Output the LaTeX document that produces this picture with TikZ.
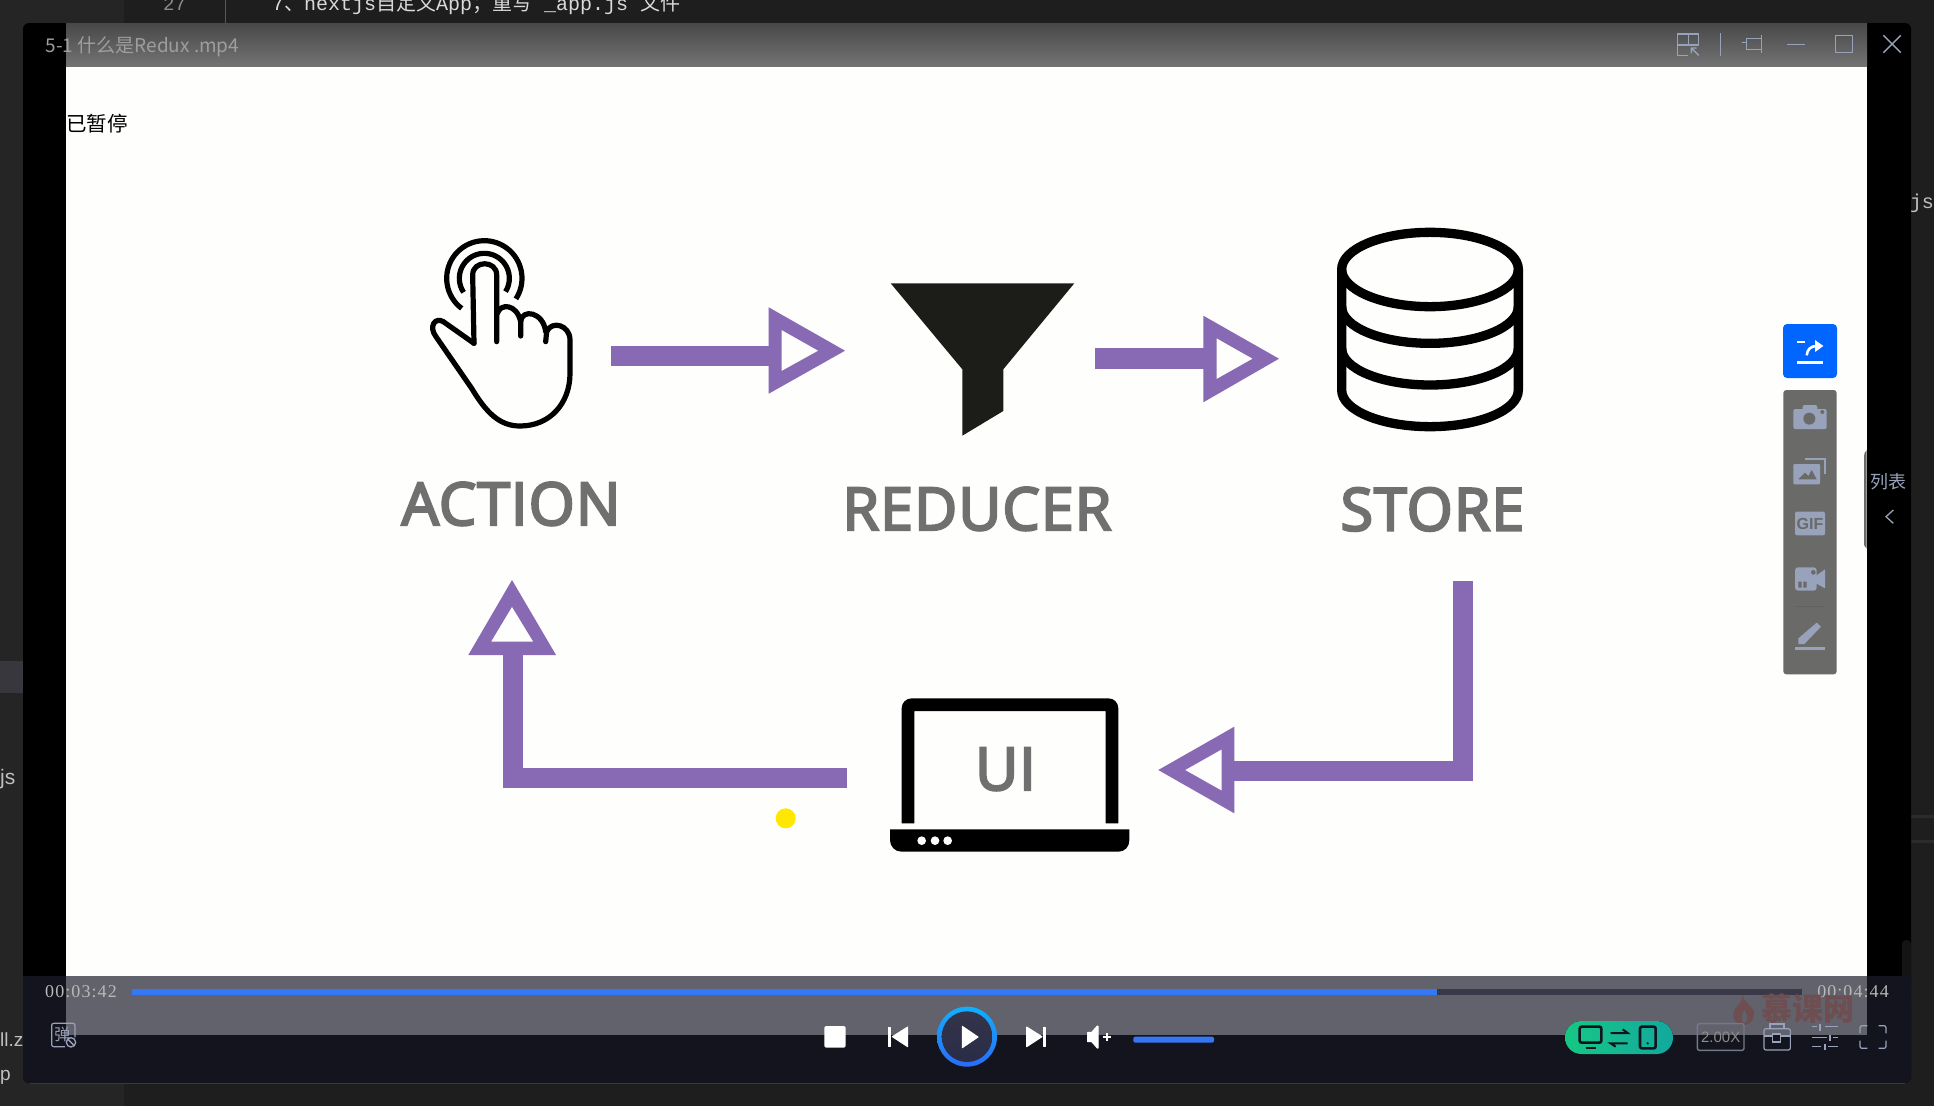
\documentclass[tikz,border=0pt]{standalone}
\usepackage{fontspec}
\setmainfont{Liberation Sans}
\newfontfamily\cjk{Noto Sans CJK SC}
\newfontfamily\labelfont[FakeBold=4,LetterSpace=2]{Open Sans}
\newfontfamily\timefont[LetterSpace=6]{Liberation Serif}
\newfontfamily\monofont{Liberation Mono}
\usetikzlibrary{calc}
\definecolor{bgdark}{HTML}{1E1E1E}
\definecolor{bgside}{HTML}{252526}
\definecolor{bghl}{HTML}{37373D}
\definecolor{bgline}{HTML}{2B2B2B}
\definecolor{band}{HTML}{62626C}
\definecolor{barbot}{HTML}{14141E}
\definecolor{scrollc}{HTML}{141414}
\definecolor{icon}{HTML}{98A2BA}
\definecolor{panel}{HTML}{6A6A68}
\definecolor{flow}{HTML}{8869B4}
\definecolor{labelgray}{HTML}{707070}
\definecolor{paper}{HTML}{FEFEFC}
\definecolor{blueprog}{HTML}{3478F6}
\definecolor{bluebtn}{HTML}{0066FF}
\definecolor{track}{HTML}{3A3848}
\definecolor{wmark}{HTML}{6E4E50}
\definecolor{funnelc}{HTML}{1C1C18}
\definecolor{ringtop}{HTML}{10B0FF}
\definecolor{ringbot}{HTML}{2A6BF5}
\definecolor{playtop}{HTML}{34344A}
\definecolor{playbot}{HTML}{2A2C48}
\definecolor{pillL}{HTML}{16C784}
\definecolor{pillR}{HTML}{13A89E}
\definecolor{dotyellow}{HTML}{FFE800}
\definecolor{titletop}{HTML}{484848}
\definecolor{titlebot}{HTML}{747474}
\tikzset{
  zoomat/.style={shift={#1},scale=1/3},
  flowline/.style={line width=20.5pt,draw=flow,line cap=butt,line join=miter},
  flowhead/.style={fill=flow,even odd rule,draw=none},
  biglabel/.style={anchor=base,text=labelgray,font=\labelfont\fontsize{59}{59}\selectfont,inner sep=0pt},
  ink/.style={draw=black,line width=5.2pt,line cap=round,line join=round},
  tbicon/.style={draw=icon,line width=1.4pt,line join=round,fill=none},
  ctrl/.style={fill=white,draw=white,line width=1pt,line join=round},
  sideicon/.style={fill=icon,draw=none},
  sidecut/.style={fill=panel,draw=none},
  txt/.style={inner sep=0pt}
}
\begin{document}
\begin{tikzpicture}[x=1pt,y=-1pt]
\useasboundingbox (0,0) rectangle (1934,1106);
% desktop background
\fill[bgdark] (0,0) rectangle (1934,1106);
\fill[bgside] (0,0) rectangle (124,1106);
\fill[bghl] (0,661) rectangle (23,693);
\fill[bgline] (1911,815) rectangle (1934,818) (1911,840) rectangle (1934,843);
\draw[black!65!white,line width=1pt] (225,0) -- (225,23);
\node[txt,anchor=base west,text=black!45!white,font=\monofont\fontsize{19}{19}\selectfont] (lineno) at (163,10) {27};
\node[txt,anchor=base west,text=white!85!black,font=\monofont\fontsize{20}{20}\selectfont] (codeline) at (272,10.5) {7{\cjk 、}nextjs{\cjk 自定义}App{\cjk ；重写} \_app.js {\cjk 文件}};
\node[txt,anchor=west,text=white!75!black,font=\fontsize{19}{19}\selectfont] (fa) at (0,1040) {ll.z};
\node[txt,anchor=west,text=white!75!black,font=\fontsize{19}{19}\selectfont] (fb) at (0,1077) {p};
\node[txt,anchor=west,text=white!75!black,font=\fontsize{21}{21}\selectfont] (fc) at (0,779) {js};
\node[txt,anchor=east,text=white!75!black,font=\monofont\fontsize{20}{20}\selectfont] (fd) at (1934,203) {js};
% player window
\fill[black,rounded corners=6pt] (23,23) rectangle (1911,1083);
\fill[scrollc,rounded corners=4pt] (1902,940) rectangle (1911,990);
\fill[paper] (66,66.7) rectangle (1867,976);
\shade[top color=titletop,bottom color=titlebot] (66,23) rectangle (1867,66.7);
\fill[barbot] (23,976) rectangle (66,1050);
\fill[barbot] (1867,976) rectangle (1911,1050);
\fill[barbot,rounded corners=6pt] (23,1000) rectangle (1911,1083);
\fill[band] (66,976) rectangle (1867,1035);
% title bar
\node[txt,anchor=base west,text=white!62!black,font=\cjk\fontsize{19}{19}\selectfont] (title) at (45.5,52) {5-1 什么是Redux .mp4};
\begin{scope}[zoomat={(1600,0)}]
  \draw[tbicon] (265,166) -- (232,166) -- (232,102) -- (296,102) -- (296,135) -- (232,135) (265,102) -- (265,135);
  \draw[tbicon] (296,166) -- (274,144) (274,160) -- (274,144) -- (290,144);
  \draw[tbicon] (362,99) -- (362,167);
  \draw[tbicon] (425,128) -- (440,128) (485,115) -- (440,115) -- (440,148) -- (485,148) (485,105) -- (485,158);
  \draw[tbicon] (562,133) -- (615,133);
  \draw[tbicon] (706,106) rectangle (758,158);
  \draw[tbicon] (850,106) -- (902,158) (902,106) -- (850,158);
\end{scope}
\node[txt,anchor=west,text=black,font=\cjk\fontsize{20.5}{20.5}\selectfont] (paused) at (66,124) {已暂停};
% ===== diagram content =====
% hand
\begin{scope}[zoomat={(400,210)}]
  \draw[ink] (222,400) -- (218,195) .. controls (218,150) and (290,150) .. (290,195) -- (290,395);
  \draw[ink] (222,400) -- (130,335) .. controls (105,320) and (85,350) .. (108,380) -- (215,535) .. controls (260,610) and (300,648) .. (360,648) .. controls (450,648) and (510,580) .. (510,490) -- (510,390) .. controls (510,345) and (455,330) .. (440,365) -- (437,395);
  \draw[ink] (437,365) .. controls (430,305) and (365,295) .. (362,335) -- (362,378);
  \draw[ink] (362,335) .. controls (350,280) and (300,280) .. (292,310);
  \draw[ink,line cap=butt] plot[domain=-33:233,samples=50] ({253+113*cos(\x)},{205-113*sin(\x)});
  \draw[ink,line cap=butt] plot[domain=-32:214,samples=50] ({253+75*cos(\x)},{205-75*sin(\x)});
\end{scope}
% funnel
\fill[funnelc] (890.7,283.3) -- (1074.3,283.3) -- (1003.3,369.3) -- (1003.3,411) -- (962.3,435.7) -- (962.3,369.3) -- cycle;
% database
\begin{scope}[zoomat={(1300,210)},line width=9.3pt]
  \draw[black] (125,178) .. controls (125,117) and (244,67) .. (390,67) .. controls (536,67) and (655,117) .. (655,178) .. controls (655,239) and (536,290) .. (390,290) .. controls (244,290) and (125,239) .. (125,178) -- cycle;
  \draw[black] (125,290) .. controls (125,351) and (244,400) .. (390,400) .. controls (536,400) and (655,351) .. (655,290);
  \draw[black] (125,415) .. controls (125,476) and (244,525) .. (390,525) .. controls (536,525) and (655,476) .. (655,415);
  \draw[black] (125,178) -- (125,540) .. controls (125,601) and (244,650) .. (390,650) .. controls (536,650) and (655,601) .. (655,540) -- (655,178);
\end{scope}
% laptop
\begin{scope}[zoomat={(860,660)}]
  \fill[black] (125,490) -- (125,145) .. controls (125,128) and (138,115) .. (155,115) -- (745,115) .. controls (762,115) and (775,128) .. (775,145) -- (775,490) -- (737,490) -- (737,153) -- (163,153) -- (163,490) -- cycle;
  \fill[black] (90,508) -- (808,508) -- (808,540) .. controls (808,560) and (795,575) .. (775,575) -- (125,575) .. controls (105,575) and (90,560) .. (90,540) -- cycle;
  \fill[paper] (185,542) circle[radius=13] (225,542) circle[radius=13] (263,542) circle[radius=13];
\end{scope}
% labels
\node[biglabel] (action) at (511,525) {ACTION};
\node[biglabel] (reducer) at (977,530) {REDUCER};
\node[biglabel] (store) at (1432.5,530.5) {STORE};
\node[biglabel] (ui) at (1005.5,790) {UI};
% connector end points
\coordinate (a1s) at (610.7,355.8); \coordinate (a1e) at (770,355.8);
\coordinate (a2s) at (1095,358.7); \coordinate (a2e) at (1205,358.7);
\coordinate (a3s) at (1463,581); \coordinate (a3c) at (1463,771); \coordinate (a3e) at (1232,771);
\coordinate (a4s) at (846.7,778); \coordinate (a4c) at (513,778); \coordinate (a4e) at (513,653);
\draw[flowline] (a1s) -- (a1e);
\fill[flowhead] (768.7,307.3) -- (845,350.7) -- (768.7,393.7) -- cycle (781.7,330) -- (818.3,350.7) -- (781.7,371) -- cycle;
\draw[flowline] (a2s) -- (a2e);
\fill[flowhead] (1203.3,315.7) -- (1279,358.7) -- (1203.3,402.3) -- cycle (1216.7,338.3) -- (1252.7,358.7) -- (1216.7,379) -- cycle;
\draw[flowline] (a3s) -- (a3c) -- (a3e);
\fill[flowhead] (1234.3,726.7) -- (1158.3,770) -- (1234.3,813.3) -- cycle (1221.7,749.3) -- (1185,770) -- (1221.7,790.7) -- cycle;
\draw[flowline] (a4s) -- (a4c) -- (a4e);
\fill[flowhead] (468.3,655) -- (512,580) -- (556,655) -- cycle (491,641.7) -- (512,606.7) -- (533.3,641.7) -- cycle;
% yellow cursor dot
\fill[dotyellow] (785.7,818.3) circle (10pt);
% ===== side tool panel =====
\begin{scope}[zoomat={(1760,310)}]
  \fill[bluebtn,rounded corners=4pt] (69,42) rectangle (231,204);
  \draw[white,line width=2.6pt] (110,96) -- (135,96) (110,158) -- (190,158);
  \draw[white,line width=2.6pt] (140,136) .. controls (142,118) and (152,108) .. (170,108);
  \fill[white] (165,90) -- (190,108) -- (165,126) -- cycle;
  \fill[panel,rounded corners=3pt] (70,240) rectangle (230,1093);
  % camera
  \fill[sideicon,rounded corners=2pt] (100,297) rectangle (200,357);
  \fill[sideicon,rounded corners=2pt] (128,285) rectangle (172,305);
  \fill[sidecut] (148,326) circle[radius=18] (187,306) circle[radius=6];
  % images
  \fill[sideicon,rounded corners=1pt] (100,462) rectangle (180,523);
  \draw[icon,line width=1.8pt] (135,447) -- (195,447) -- (195,492);
  \fill[sidecut] (115,508) -- (135,488) -- (145,498) -- (155,480) -- (170,508) -- cycle;
  % gif
  \fill[sideicon,rounded corners=2pt] (105,605) rectangle (195,676);
  \node[txt,text=panel,font=\bfseries\fontsize{16}{16}\selectfont] (gif) at (150,640.5) {GIF};
  % video
  \fill[sideicon,rounded corners=3pt] (105,772) rectangle (170,842);
  \fill[sideicon] (168,797) -- (195,778) -- (195,835) -- (168,820) -- cycle;
  \fill[sidecut] (160,787) circle[radius=7];
  \fill[sidecut] (115,815) rectangle (125,833) (130,815) rectangle (140,833);
  % divider
  \draw[black!62!white,line width=1pt] (105,888) -- (195,888);
  % pen
  \fill[sideicon] (115,985) -- (170,938) -- (183,950) -- (133,1002) -- (115,1002) -- cycle;
  \draw[icon,line width=2.6pt] (105,1015) -- (195,1015);
  % list tab
  \fill[panel] (320,420) .. controls (312,425) and (312,435) .. (312,445) -- (312,690) .. controls (312,705) and (312,712) .. (320,716) -- cycle;
  \node[txt,text=icon,font=\cjk\fontsize{18}{18}\selectfont] (listlabel) at (385,515) {列表};
  \draw[icon,line width=1.3pt] (400,600) -- (378,620) -- (400,640);
\end{scope}
% ===== bottom bar =====
\node[txt,anchor=base west,text=white!72!black,font=\timefont\fontsize{18}{18}\selectfont] (timea) at (45,997) {00:03:42};
\node[txt,anchor=base east,text=white!72!black,font=\timefont\fontsize{18}{18}\selectfont] (timeb) at (1889,997) {00:04:44};
\fill[track] (132,989) rectangle (1802,995);
\fill[blueprog] (132,989) rectangle (1437,995);
% watermark
\begin{scope}[zoomat={(1500,960)}]
  \fill[wmark] (728,105) .. controls (735,135) and (765,140) .. (762,165) .. controls (760,185) and (745,195) .. (730,195) .. controls (710,195) and (698,180) .. (700,160) .. controls (702,140) and (725,135) .. (728,105) -- cycle;
  \fill[band] (733,150) .. controls (745,165) and (745,185) .. (732,190) .. controls (722,185) and (722,165) .. (733,150) -- cycle;
  \node[txt,anchor=base west,text height=20pt,text depth=0pt,text=wmark,font=\cjk\bfseries\fontsize{31}{31}\selectfont] (brand) at (785,182) {慕课网};
\end{scope}
% danmaku icon
\begin{scope}[zoomat={(0,960)}]
  \draw[icon,line width=1.2pt,rounded corners=2pt] (195,260) -- (155,260) -- (155,190) -- (225,190) -- (225,232);
  \node[txt,text=icon,font=\cjk\fontsize{16}{16}\selectfont] (danmu) at (187,224) {弹};
  \draw[icon,line width=1.3pt,fill=barbot] (213,247) circle[radius=14];
  \draw[icon,line width=1.3pt] (204,238) -- (222,256);
\end{scope}
% transport controls
\begin{scope}[zoomat={(780,960)}]
  \fill[white,rounded corners=2pt] (133,198) rectangle (197,263);
  \fill[ctrl] (326,201) rectangle (331,260);
  \fill[ctrl] (383,201) -- (337,230) -- (383,260) -- cycle;
  \shade[top color=ringtop,bottom color=ringbot] (561,230) circle[radius=90];
  \shade[top color=playtop,bottom color=playbot] (561,230) circle[radius=76];
  \fill[ctrl] (547,199) -- (594,231) -- (547,263) -- cycle;
  \fill[ctrl] (740,201) -- (786,230) -- (740,260) -- cycle;
  \fill[ctrl] (791,201) rectangle (796,260);
  \fill[ctrl] (923,217) -- (935,217) -- (952,198) -- (954,198) -- (954,264) -- (952,264) -- (935,245) -- (923,245) -- cycle;
  \draw[white,line width=1.8pt] (968,232) -- (992,232) (980,220) -- (980,244);
  \fill[blueprog,rounded corners=2pt] (1060,230) rectangle (1302,248);
\end{scope}
% right hand controls
\begin{scope}[zoomat={(1500,960)}]
  \fill[left color=pillL,right color=pillR,rounded corners=16.4pt] (195,183) rectangle (519,282);
  \draw[barbot,line width=2.6pt,rounded corners=2pt] (239,200) rectangle (304,248);
  \draw[barbot,line width=2.6pt] (257,264) -- (288,264);
  \draw[barbot,line width=2pt] (332,219) -- (383,219) -- (368,208);
  \draw[barbot,line width=2pt] (383,250) -- (332,250) -- (347,260);
  \draw[barbot,line width=2.6pt,rounded corners=2pt] (420,200) rectangle (467,265);
  \fill[barbot] (443,250) circle[radius=4];
  \draw[icon!75!black,line width=1.4pt,rounded corners=2pt] (592,191) rectangle (732,271);
  \node[txt,text=black!45!white,font=\fontsize{15}{15}\selectfont] (speed) at (662,232) {2.00X};
  \draw[icon,line width=1.2pt,rounded corners=2pt] (792,206) rectangle (871,270);
  \draw[icon,line width=1.2pt] (810,206) -- (810,192) -- (852,192) -- (852,206) (792,228) -- (818,228) (842,228) -- (871,228);
  \draw[icon,line width=1.2pt] (818,222) rectangle (842,246);
  \draw[icon,line width=1.2pt] (935,200) -- (952,200) (960,192) -- (960,212) (975,200) -- (1015,200);
  \draw[icon,line width=1.2pt] (935,232) -- (982,232) (990,224) -- (990,242) (998,232) -- (1015,232);
  \draw[icon,line width=1.2pt] (935,260) -- (962,260) (975,252) -- (975,270) (985,260) -- (1015,260);
  \draw[icon,line width=1.2pt,rounded corners=2pt] (1080,220) -- (1080,197) -- (1102,197) (1136,197) -- (1158,197) -- (1158,220) (1158,242) -- (1158,265) -- (1136,265) (1102,265) -- (1080,265) -- (1080,242);
\end{scope}
\draw[track,line width=.8pt] (30,1083) -- (1905,1083);
\end{tikzpicture}
\end{document}
